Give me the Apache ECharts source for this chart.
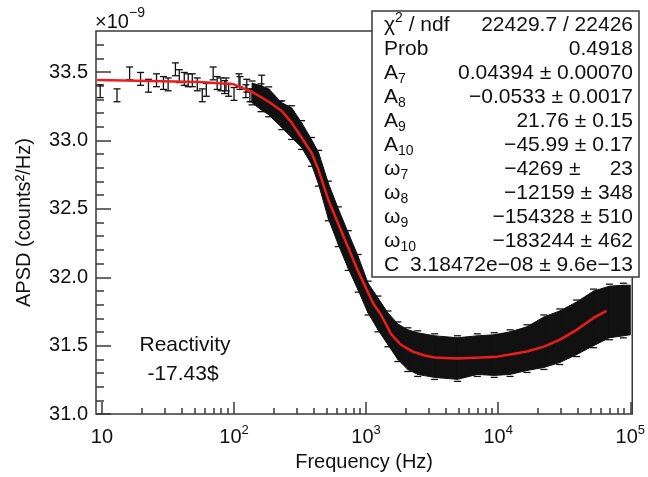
<!DOCTYPE html>
<html>
<head>
<meta charset="utf-8">
<script src="https://cdn.jsdelivr.net/npm/echarts@6/dist/echarts.min.js"></script>
<style>
  html, body { margin: 0; padding: 0; background: #fff; }
  #chart { width: 648px; height: 477px; }
</style>
</head>
<body>
<div id="chart"></div>
<script>
  // APSD values are in units of 1e-9 counts^2/Hz, frequencies in Hz

  // sparse low frequency points with error bars
  var sparseFreq = [9.7, 13, 16.2, 19.6, 22.5, 25.9, 29.2, 31.7, 36, 38.5, 42, 45, 48.3, 52.7, 57.5, 61.7, 69.5, 74.5, 79.5, 85, 87, 91, 100, 109, 111, 123, 125, 132, 137, 162, 174, 193, 224]
  var sparseApsd = [33.36, 33.33, 33.49, 33.45, 33.40, 33.44, 33.42, 33.41, 33.52, 33.47, 33.45, 33.44, 33.44, 33.41, 33.33, 33.37, 33.49, 33.42, 33.41, 33.39, 33.41, 33.37, 33.34, 33.44, 33.42, 33.36, 33.40, 33.33, 33.33, 33.43, 33.26, 33.27, 33.24]
  var sparseErr = 0.047

  // dense region: upper / lower edge of the black band of error bars
  var bandFreq = [137, 160, 183, 230, 273, 325, 386, 436, 518, 616, 732, 871, 1035, 1231, 1464, 1740, 2069, 2460, 3303, 4917, 6952, 9331, 12310, 16520, 22180, 29260, 39270, 52700, 69520, 88590, 100000]
  var bandHigh = [33.420, 33.399, 33.377, 33.275, 33.239, 33.130, 33.007, 32.913, 32.688, 32.500, 32.326, 32.152, 31.957, 31.848, 31.739, 31.659, 31.616, 31.594, 31.572, 31.558, 31.572, 31.580, 31.601, 31.638, 31.710, 31.754, 31.819, 31.899, 31.935, 31.942, 31.942]
  var bandLow = [33.275, 33.225, 33.188, 33.094, 33.022, 32.949, 32.826, 32.681, 32.428, 32.239, 32.065, 31.906, 31.739, 31.616, 31.507, 31.399, 31.326, 31.290, 31.268, 31.254, 31.290, 31.283, 31.290, 31.319, 31.341, 31.377, 31.435, 31.500, 31.558, 31.572, 31.580]

  // fit curve
  var fitFreq = [9.2, 23, 54.6, 100, 137, 183, 230, 273, 325, 386, 436, 518, 671, 871, 1130, 1297, 1542, 1834, 2256, 2778, 3303, 4918, 7328, 9820, 12300, 16500, 22200, 29200, 39300, 52700, 66000]
  var fitApsd = [33.442, 33.435, 33.428, 33.41, 33.355, 33.283, 33.215, 33.13, 33.02, 32.91, 32.785, 32.565, 32.304, 32.043, 31.81, 31.725, 31.587, 31.507, 31.457, 31.428, 31.413, 31.406, 31.413, 31.42, 31.435, 31.457, 31.493, 31.543, 31.616, 31.703, 31.754]

  // axis ticks
  var xMajor = [1, 2, 3, 4, 5]
  var yMajor = [31.0, 31.5, 32.0, 32.5, 33.0, 33.5]
  var yMinor = [31.1, 31.2, 31.3, 31.4, 31.6, 31.7, 31.8, 31.9, 32.1, 32.2, 32.3, 32.4, 32.6, 32.7, 32.8, 32.9,
    33.1, 33.2, 33.3, 33.4, 33.6, 33.7]

  // stats box
  var statNames = [['χ', '', '2', ' / ndf'], ['Prob', '', ''], ['A', '7', ''], ['A', '8', ''], ['A', '9', ''], ['A', '10', ''],
    ['ω', '7', ''], ['ω', '8', ''], ['ω', '9', ''], ['ω', '10', ''], ['C', '', '']]
  var statValues = ['22429.7 / 22426', '0.4918', '0.04394 ± 0.00070', '−0.0533 ± 0.0017', '21.76 ± 0.15', '−45.99 ± 0.17',
    '−4269 ±     23', '−12159 ± 348', '−154328 ± 510', '−183244 ± 462', '3.18472e−08 ± 9.6e−13']

  var lg = function (f) { return Math.log10(f) }

  var xMinor = []
  for (var n = 1; n <= 4; n++) {
    for (var k = 2; k <= 9; k++) xMinor.push(n + Math.log10(k))
  }

  var sparseData = sparseFreq.map(function (f, i) {
    return [lg(f), sparseApsd[i] - sparseErr, sparseApsd[i] + sparseErr]
  })
  var bandData = []
  for (var i = 0; i < bandFreq.length - 1; i++) {
    bandData.push([lg(bandFreq[i]), bandLow[i], bandHigh[i], lg(bandFreq[i + 1]), bandLow[i + 1], bandHigh[i + 1]])
  }
  var fitData = fitFreq.map(function (f, i) { return [lg(f), fitApsd[i]] })

  var ink = '#111'
  var frame = '#3a3a3a'
  var fam = 'Liberation Sans, Arial, sans-serif'

  function renderBar(params, api) {
    var top = api.coord([api.value(0), api.value(2)])
    var bot = api.coord([api.value(0), api.value(1)])
    var w = 3.5
    var st = { stroke: ink, lineWidth: 1.3 }
    return {
      type: 'group', children: [
        { type: 'line', shape: { x1: top[0], y1: top[1], x2: bot[0], y2: bot[1] }, style: st },
        { type: 'line', shape: { x1: top[0] - w, y1: top[1], x2: top[0] + w, y2: top[1] }, style: st },
        { type: 'line', shape: { x1: bot[0] - w, y1: bot[1], x2: bot[0] + w, y2: bot[1] }, style: st }
      ]
    }
  }

  function renderBand(params, api) {
    var a1 = api.coord([api.value(0), api.value(2)])
    var a0 = api.coord([api.value(0), api.value(1)])
    var b1 = api.coord([api.value(3), api.value(5)])
    var b0 = api.coord([api.value(3), api.value(4)])
    var w = 3.5
    var st = { stroke: ink, lineWidth: 1.3 }
    return {
      type: 'group', children: [
        { type: 'polygon', shape: { points: [a1, b1, b0, a0] }, style: { fill: ink, stroke: ink, lineWidth: 1 } },
        { type: 'line', shape: { x1: a1[0] - w, y1: a1[1] - 2, x2: a1[0] + w, y2: a1[1] - 2 }, style: st },
        { type: 'line', shape: { x1: a0[0] - w, y1: a0[1] + 2, x2: a0[0] + w, y2: a0[1] + 2 }, style: st }
      ]
    }
  }

  var statGraphics = [{
    type: 'rect', z: 100,
    shape: { x: 372, y: 11, width: 267, height: 266 },
    style: { fill: '#fff', stroke: frame, lineWidth: 1.5 }
  }]
  statNames.forEach(function (nm, i) {
    var y = 25 + i * 24
    var txt = '{b|' + nm[0] + '}'
    if (nm[1]) txt += '{s|' + nm[1] + '}'
    if (nm[2]) txt += '{p|' + nm[2] + '}'
    if (nm[3]) txt += '{b|' + nm[3] + '}'
    statGraphics.push({
      type: 'text', z: 101, x: 384, y: y,
      style: {
        text: txt, align: 'left', verticalAlign: 'middle', fill: ink,
        rich: {
          b: { font: '21px ' + fam, lineHeight: 27, fill: ink },
          s: { font: '14px ' + fam, verticalAlign: 'bottom', fill: ink },
          p: { font: '14px ' + fam, verticalAlign: 'top', fill: ink }
        }
      }
    })
    statGraphics.push({
      type: 'text', z: 101, x: 633, y: y,
      style: { text: statValues[i], align: 'right', verticalAlign: 'middle', fill: ink, font: '21px ' + fam }
    })
  })

  var chart = echarts.init(document.getElementById('chart'))
  chart.setOption({
    animation: false,
    backgroundColor: '#fff',
    grid: { left: 96, right: 10, top: 31, bottom: 60, show: true, borderColor: frame, borderWidth: 1.5 },
    xAxis: [{
      type: 'value', min: 0.955, max: 5.015, position: 'bottom',
      name: 'Frequency (Hz)', nameLocation: 'middle', nameGap: 34,
      nameTextStyle: { fontSize: 20, fontFamily: fam, color: ink },
      axisLine: { show: false },
      splitLine: { show: false },
      axisTick: { show: true, inside: true, length: 12, customValues: xMajor, lineStyle: { color: frame, width: 1.5 } },
      axisLabel: {
        customValues: xMajor, margin: 10,
        formatter: function (v) { return v === 1 ? '{b|10}' : '{b|10}{s|' + v + '}' },
        rich: {
          b: { fontSize: 20, fontFamily: fam, color: ink, lineHeight: 26 },
          s: { fontSize: 13, fontFamily: fam, color: ink, verticalAlign: 'top' }
        }
      }
    }, {
      type: 'value', min: 0.955, max: 5.015, position: 'bottom',
      axisLine: { show: false }, splitLine: { show: false }, axisLabel: { show: false },
      axisTick: { show: true, inside: true, length: 6, customValues: xMinor, lineStyle: { color: frame, width: 1.5 } }
    }],
    yAxis: [{
      type: 'value', min: 31.0, max: 33.8, position: 'left',
      name: 'APSD (counts²/Hz)', nameLocation: 'middle', nameGap: 62,
      nameTextStyle: { fontSize: 20, fontFamily: fam, color: ink },
      axisLine: { show: false },
      splitLine: { show: false },
      axisTick: { show: true, inside: true, length: 15, customValues: yMajor, lineStyle: { color: frame, width: 1.5 } },
      axisLabel: {
        customValues: yMajor, margin: 8, fontSize: 20, fontFamily: fam, color: ink,
        formatter: function (v) { return v.toFixed(1) }
      }
    }, {
      type: 'value', min: 31.0, max: 33.8, position: 'left',
      axisLine: { show: false }, splitLine: { show: false }, axisLabel: { show: false },
      axisTick: { show: true, inside: true, length: 8, customValues: yMinor, lineStyle: { color: frame, width: 1.5 } }
    }],
    series: [{
      type: 'custom', name: 'band', renderItem: renderBand, data: bandData,
      dimensions: ['x0', 'lo0', 'hi0', 'x1', 'lo1', 'hi1'],
      encode: { x: [0, 3], y: [1, 2, 4, 5] }, z: 2
    }, {
      type: 'custom', name: 'points', renderItem: renderBar, data: sparseData,
      encode: { x: 0, y: [1, 2] }, z: 3
    }, {
      type: 'line', name: 'fit', data: fitData, showSymbol: false, symbol: 'none',
      lineStyle: { color: '#ee1c1c', width: 2.5 }, z: 5
    }],
    graphic: statGraphics.concat([
      { type: 'text', x: 95, y: 22, style: { text: '×10', font: '20px ' + fam, fill: ink, verticalAlign: 'middle' } },
      { type: 'text', x: 129, y: 13, style: { text: '−9', font: '14px ' + fam, fill: ink, verticalAlign: 'middle' } },
      { type: 'text', x: 185, y: 345, style: { text: 'Reactivity', font: '21px ' + fam, fill: ink, align: 'center', verticalAlign: 'middle' } },
      { type: 'text', x: 183, y: 374, style: { text: '-17.43$', font: '21px ' + fam, fill: ink, align: 'center', verticalAlign: 'middle' } }
    ])
  })
</script>
</body>
</html>
